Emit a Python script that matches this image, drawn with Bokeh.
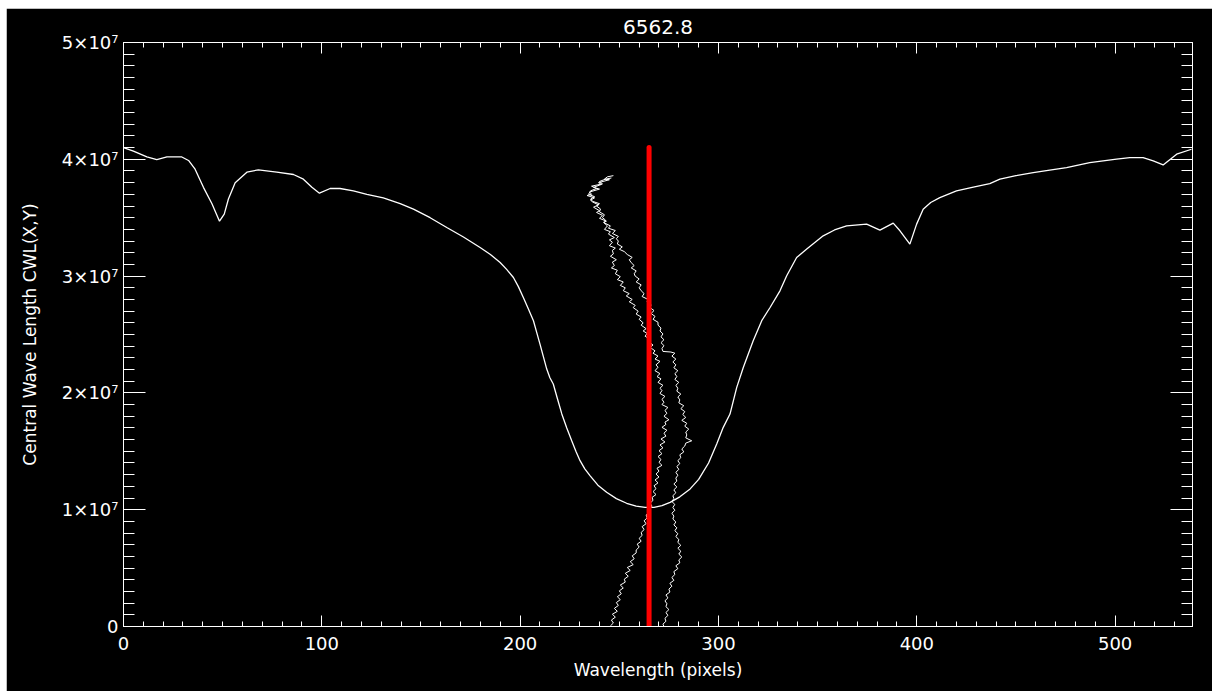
from bokeh.plotting import figure
from bokeh.models import LinearAxis, FixedTicker, Range1d, CustomJSTickFormatter, Spacer
from bokeh.layouts import column, row
from bokeh.embed import file_html
from bokeh.resources import INLINE

# ---------------- data (y values in units of 1e6) ----------------
title_text = "6562.8"
x_label = "Wavelength (pixels)"
y_label = "Central Wave Length CWL(X,Y)"

x_ticks = [0, 100, 200, 300, 400, 500]
y_ticks = [0, 10000000, 20000000, 30000000, 40000000, 50000000]
y_tick_labels = ["0", "1×10⁷", "2×10⁷", "3×10⁷", "4×10⁷", "5×10⁷"]

profile_x = [0, 5, 11.8, 16.8, 21.9, 29.4, 32.8, 36.1, 40.3, 44.6, 48.4, 50.8, 52.9,
             56.3, 62.2, 68.0, 77.3, 85.7, 90.7, 95.0, 98.8, 104.2, 109.2, 115.9,
             122.7, 131.0, 139.5, 146.2, 154.6, 163.0, 171.4, 179.8, 185.0, 189.9,
             193.3, 196.6, 199.1, 201.6, 204.1, 206.7, 208.3, 210.0, 211.7, 213.4,
             215.0, 216.7, 218.8, 221.0, 223.5, 226.0, 228.1, 230.2, 232.6, 235.2,
             239.2, 243.6, 248.5, 253.7, 258.5, 263.0, 267.5, 271.5, 275.6, 280.5,
             285.7, 290, 295, 299.1, 302.4, 305.8, 309.2, 312.5, 317.5, 321.8, 326.0,
             331.0, 334.4, 339.4, 344.5, 352.8, 358.5, 364.6, 374.7, 381.4, 388.1,
             391.5, 396.5, 399.9, 403.2, 407.0, 411.6, 420.0, 428.5, 436.8, 441.9,
             450.0, 458.7, 467.0, 475.5, 487.2, 500.7, 507.4, 514.1, 519.2, 524.2,
             531.0, 538.5]
profile_y = [41.0, 40.7, 40.2, 39.97, 40.2, 40.2, 39.9, 39.15, 37.6, 36.2, 34.7, 35.3,
             36.6, 38.0, 38.9, 39.1, 38.9, 38.7, 38.3, 37.6, 37.1, 37.5, 37.5, 37.3,
             37.0, 36.7, 36.2, 35.73, 35.0, 34.16, 33.35, 32.45, 31.85, 31.16, 30.55,
             29.88, 29.1, 28.17, 27.2, 26.18, 25.2, 24.18, 23.1, 22.04, 21.3, 20.76,
             19.5, 18.20, 17.0, 15.91, 15.0, 14.20, 13.5, 12.92, 12.1, 11.49, 10.95,
             10.55, 10.3, 10.2, 10.2, 10.35, 10.63, 11.1, 11.78, 12.6, 14.0, 15.63,
             17.05, 18.19, 20.47, 22.18, 24.47, 26.18, 27.31, 28.74, 30.03, 31.59, 32.31,
             33.45, 33.95, 34.30, 34.45, 33.94, 34.53, 33.88, 32.74, 34.45, 35.73, 36.3,
             36.72, 37.30, 37.62, 37.92, 38.30, 38.6, 38.86, 39.08, 39.29, 39.72, 40.01,
             40.15, 40.15, 39.86, 39.52, 40.44, 40.86]

trace1_y = [38.6, 38.5, 38.3, 38.25, 38.0, 37.85, 37.6, 37.45, 37.2, 37.0, 36.9, 36.7,
            36.5, 36.35, 36.1, 35.9, 35.6, 35.45, 35.2, 34.95, 34.7, 34.6, 34.3, 34.0,
            33.8, 33.6, 33.3, 33.1, 32.9, 32.6, 32.4, 32.2, 31.9, 31.7, 31.4, 31.2, 30.9,
            30.7, 30.5, 30.2, 29.95, 29.7, 29.5, 29.2, 29.0, 28.75, 28.5, 28.3, 28.0,
            27.8, 27.5, 27.3, 27.0, 26.75, 26.5, 26.3, 26.0, 25.8, 25.5, 25.3, 25.1,
            24.85, 24.6, 24.4, 24.1, 23.9, 23.6, 23.4, 23.15, 22.9, 22.7, 22.4, 22.2,
            21.9, 21.65, 21.4, 21.2, 20.9, 20.65, 20.4, 20.2, 19.95, 19.7, 19.45, 19.2,
            19.0, 18.75, 18.5, 18.25, 18.0, 17.7, 17.5, 17.3, 17.05, 16.8, 16.55, 16.3,
            16.05, 15.8, 15.55, 15.3, 15.05, 14.8, 14.55, 14.3, 14.05, 13.8, 13.55, 13.3,
            13.05, 12.8, 12.55, 12.3, 12.05, 11.8, 11.55, 11.3, 11.05, 10.8, 10.55, 10.3,
            10.05, 9.8, 9.55, 9.3, 9.05, 8.8, 8.55, 8.3, 8.05, 7.8, 7.55, 7.3, 7.05, 6.8,
            6.55, 6.3, 6.05, 5.8, 5.55, 5.3, 5.05, 4.8, 4.55, 4.3, 4.05, 3.8, 3.55, 3.3,
            3.05, 2.8, 2.55, 2.3, 2.05, 1.8, 1.55, 1.3, 1.05, 0.8, 0.55, 0.3, 0.05]
trace1_x = [247, 244, 242.5, 245, 239.5, 241, 237, 240, 235, 236, 233.7, 237.5, 235.5,
            236.5, 239.5, 237, 240, 238.5, 241.5, 240, 243.5, 242, 244, 242.5, 245.5,
            244.5, 247.5, 245, 246.5, 245, 248, 246.5, 247, 245.5, 248.5, 246.5, 247.5,
            246, 249, 248, 250.5, 249, 252, 250.5, 253, 252, 255, 253.5, 256.5, 255, 258,
            257, 259.5, 258.5, 261, 260, 262, 261, 263.5, 262, 264, 263, 265.5, 264.5,
            267, 265.5, 268, 267, 269.5, 268, 270.5, 268.5, 269.5, 268, 270.5, 269, 271,
            269.5, 272, 270.5, 271.5, 270.5, 273, 271.5, 272.5, 271.5, 274.5, 273, 274,
            272.5, 275, 273, 273.5, 271.5, 274, 272.5, 273.5, 271, 273, 270.5, 272, 270,
            271.5, 269.5, 271, 270, 271.5, 269, 270, 268.5, 270, 268, 269.5, 267.5, 268.5,
            267, 268.5, 266.5, 267, 265.5, 266.5, 264.5, 265.5, 263.5, 264, 262.5, 263.5,
            261.5, 262.5, 261, 261.5, 260, 261, 259, 260, 258.5, 258.5, 256.5, 257.5,
            255.5, 257, 254, 255.5, 253, 254.5, 252.5, 253, 250.5, 252, 250, 251, 249,
            250.5, 248.5, 249.5, 247.5, 249, 246.5, 248, 246, 247, 245.5]

trace2_y = [38.4, 38.3, 38.1, 37.9, 37.7, 37.5, 37.3, 37.0, 36.8, 36.6, 36.4, 36.2, 36.0,
            35.75, 35.5, 35.25, 35.0, 34.8, 34.55, 34.3, 34.1, 33.9, 33.65, 33.4, 33.2,
            33.0, 32.75, 32.5, 32.3, 32.1, 31.85, 31.6, 31.4, 31.15, 30.9, 30.7, 30.45,
            30.2, 30.0, 29.75, 29.5, 29.25, 29.0, 28.75, 28.5, 28.25, 28.0, 27.8, 27.55,
            27.3, 27.05, 26.8, 26.55, 26.3, 26.05, 25.8, 25.55, 25.3, 25.05, 24.8, 24.55,
            24.3, 24.05, 23.8, 23.55, 23.5, 23.4, 23.15, 22.9, 22.65, 22.4, 22.15, 21.9,
            21.65, 21.4, 21.15, 20.9, 20.65, 20.4, 20.15, 19.9, 19.65, 19.4, 19.15, 18.9,
            18.65, 18.4, 18.15, 17.9, 17.65, 17.4, 17.15, 16.9, 16.65, 16.4, 16.15, 15.9,
            15.7, 15.45, 15.2, 14.95, 14.7, 14.45, 14.2, 13.95, 13.7, 13.45, 13.2, 12.95,
            12.7, 12.45, 12.2, 11.95, 11.7, 11.45, 11.2, 10.95, 10.7, 10.45, 10.2, 9.95,
            9.7, 9.45, 9.2, 8.95, 8.7, 8.45, 8.2, 7.95, 7.7, 7.45, 7.2, 6.95, 6.7, 6.45,
            6.2, 5.95, 5.7, 5.45, 5.2, 4.95, 4.7, 4.45, 4.2, 3.95, 3.7, 3.45, 3.2, 2.95,
            2.7, 2.45, 2.2, 1.95, 1.7, 1.45, 1.2, 0.95, 0.7, 0.45, 0.2, 0.0]
trace2_x = [246, 243, 240, 241.5, 236, 238.5, 235.5, 234.5, 237.5, 235.5, 236.5, 240,
            238.5, 240.5, 240, 242.5, 241.5, 243, 242.5, 245.5, 244.5, 248, 246.5, 249.5,
            248.5, 249.5, 249, 251.5, 250, 252.5, 254, 256.5, 255, 256, 257.5, 256, 258.5,
            257.5, 258, 260, 258.5, 261, 260, 261, 262.5, 261.5, 264.5, 264, 266, 265.5,
            267.5, 266, 268, 267, 269.5, 269.5, 271, 270.5, 272, 271, 272.5, 271, 272.5,
            271.5, 272, 276, 278, 276.5, 278.5, 277, 278.5, 277.5, 279.5, 278, 279, 278,
            280, 278.5, 279.5, 279, 281, 279.5, 280.5, 280, 282.5, 281, 283, 282, 283.5,
            281.5, 284, 283, 285, 283.5, 284, 283.5, 286.5, 283.5, 283, 281.5, 282.5,
            280.5, 281, 279.5, 280.5, 279, 280, 278.5, 279.5, 278.5, 279, 277.5, 279,
            277.5, 278.5, 277, 277.5, 276.5, 278, 277, 278, 276.5, 277.5, 277, 278.5,
            277.5, 279, 278, 279.5, 278.5, 280, 279.5, 281, 279.5, 281, 280, 281.5, 280,
            280.5, 278.5, 279.5, 277.5, 278, 276.5, 277.5, 275.5, 276.5, 275, 275.5,
            273.5, 274.5, 273, 274, 273.5, 275, 273.5, 274.5, 273, 273.5, 272, 272.5]

marker_x = [265, 265]
marker_y = [0, 41.0]

UNIT = 1e6

# ---------------- figure ----------------
FONT = "DejaVu Sans"
WHITE = "#ffffff"

p = figure(width=1206, height=683, output_backend="svg", toolbar_location=None,
           x_range=Range1d(0, 539), y_range=Range1d(0, 5e7),
           min_border_left=117, min_border_right=20, min_border_top=34,
           min_border_bottom=65,
           background_fill_color="black", border_fill_color="black",
           outline_line_color=WHITE)
p.grid.visible = False

p.title.text = title_text
p.title.align = "center"
p.title.text_color = WHITE
p.title.text_font = FONT
p.title.text_font_style = "normal"
p.title.text_font_size = "20px"
if "standoff" in p.title.properties():
    p.title.standoff = 17

x_minor = [v for v in range(0, 540, 10) if v % 100 != 0]
y_minor = [v * 1000000 for v in range(0, 51) if v % 10 != 0]
xt = FixedTicker(ticks=x_ticks, minor_ticks=x_minor)
yt = FixedTicker(ticks=y_ticks, minor_ticks=y_minor)


def style(ax, is_x, show_labels):
    ax.ticker = xt if is_x else yt
    ax.axis_line_color = WHITE
    ax.major_tick_line_color = WHITE
    ax.minor_tick_line_color = WHITE
    ax.major_tick_out = 0
    ax.minor_tick_out = 0
    ax.major_tick_in = 11 if is_x else 22
    ax.minor_tick_in = 5 if is_x else 11
    ax.major_label_text_color = WHITE
    ax.major_label_text_font = FONT
    ax.axis_label_text_color = WHITE
    ax.axis_label_text_font = FONT
    ax.axis_label_text_font_style = "normal"
    if not show_labels:
        ax.formatter = CustomJSTickFormatter(code="return ''")
        ax.major_label_text_font_size = "1px"
        ax.major_label_standoff = 0


xa = p.xaxis[0]
style(xa, True, True)
xa.axis_label = x_label
xa.major_label_text_font_size = "18px"
xa.major_label_standoff = 10
xa.axis_label_text_font_size = "17px"
xa.axis_label_standoff = 7

ya = p.yaxis[0]
style(ya, False, True)
ya.axis_label = y_label
ya.major_label_text_font_size = "18px"
ya.major_label_standoff = 5
ya.axis_label_text_font_size = "17px"
ya.axis_label_standoff = 19
ya.major_label_overrides = {int(t): lab for t, lab in zip(y_ticks, y_tick_labels)}

top = LinearAxis()
style(top, True, False)
p.add_layout(top, "above")
right = LinearAxis()
style(right, False, False)
p.add_layout(right, "right")

p.line(profile_x, [v * UNIT for v in profile_y], color=WHITE, line_width=1.3)
p.line(trace1_x, [v * UNIT for v in trace1_y], color=WHITE, line_width=1)
p.line(trace2_x, [v * UNIT for v in trace2_y], color=WHITE, line_width=1)
p.line(marker_x, [v * UNIT for v in marker_y], color="#ff0000", line_width=5,
       line_cap="round")

page = column(Spacer(height=8, width=1212), row(Spacer(width=6, height=683), p))
open("out.html", "w").write(file_html(page, INLINE))
